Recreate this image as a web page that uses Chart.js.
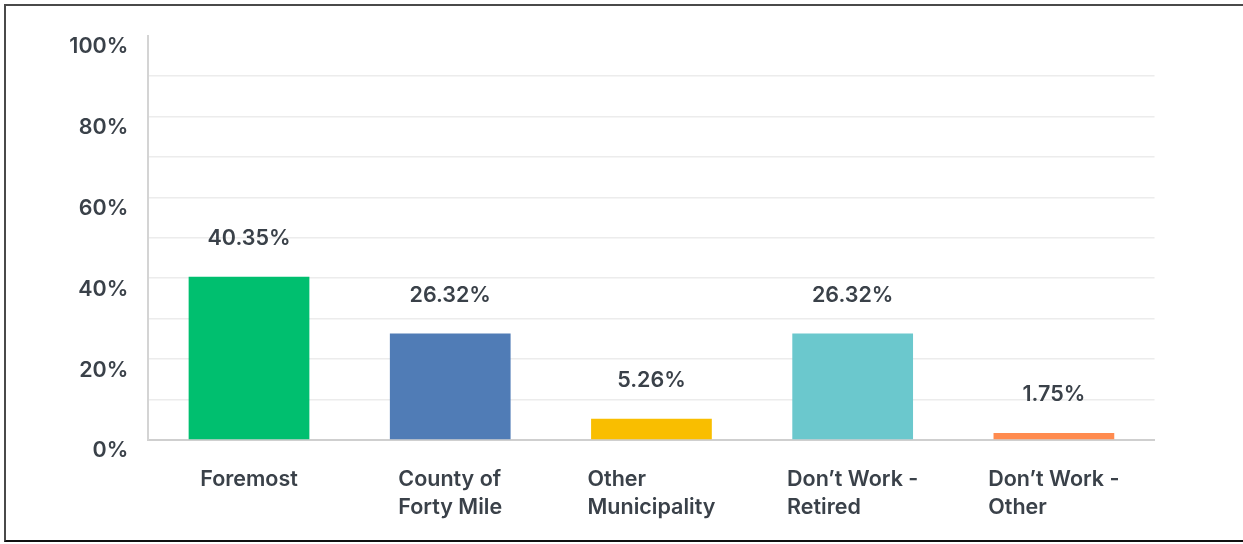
<!DOCTYPE html>
<html>
<head>
<meta charset="utf-8">
<script src="https://cdn.jsdelivr.net/npm/chart.js@4.4.0/dist/chart.umd.min.js"></script>
<style>
  html, body { margin: 0; padding: 0; background: #fff; }
  #wrap { position: relative; width: 1243px; height: 544px; }
  #frame { position: absolute; left: 4px; top: 4px; width: 1239px; height: 538px;
           border-top: 2px solid #4a4a4a; border-left: 2px solid #4a4a4a; border-bottom: 2px solid #111;
           box-sizing: border-box; pointer-events: none; }
</style>
</head>
<body>
<div id="wrap">
  <canvas id="chart1" width="1243" height="544"></canvas>
  <div id="frame"></div>
</div>
<script>
const categories = [
  ['Foremost'],
  ['County of', 'Forty Mile'],
  ['Other', 'Municipality'],
  ['Don\u2019t Work -', 'Retired'],
  ['Don\u2019t Work -', 'Other']
];
const percents = [40.35, 26.32, 5.26, 26.32, 1.75];
const barColors = ['#00bf6f', '#507cb6', '#f9be00', '#6bc8cd', '#ff8b4f'];
const yTicks = [0, 20, 40, 60, 80, 100];

const textColor = '#3a4149';
const fontFamily = 'Inter, "Open Sans", sans-serif';
const fontSize = 21.5;

// value labels above each bar
const valueLabels = {
  id: 'valueLabels',
  afterDatasetsDraw(chart) {
    const ctx = chart.ctx;
    const meta = chart.getDatasetMeta(0);
    ctx.save();
    ctx.font = '600 ' + fontSize + 'px ' + fontFamily;
    ctx.fillStyle = textColor;
    ctx.textAlign = 'center';
    ctx.textBaseline = 'middle';
    meta.data.forEach(function(bar, i) {
      ctx.fillText(percents[i].toFixed(2) + '%', bar.x, bar.y - 38.5);
    });
    ctx.restore();
  }
};

// x labels: lines left aligned, block centred under the bar
const xLabels = {
  id: 'xLabels',
  afterDraw(chart) {
    const ctx = chart.ctx;
    const x = chart.scales.x;
    ctx.save();
    ctx.font = '600 ' + fontSize + 'px ' + fontFamily;
    ctx.fillStyle = textColor;
    ctx.textAlign = 'left';
    ctx.textBaseline = 'middle';
    categories.forEach(function(lines, i) {
      const cx = x.getPixelForValue(i);
      let w = 0;
      lines.forEach(function(l) { w = Math.max(w, ctx.measureText(l).width); });
      lines.forEach(function(l, j) {
        ctx.fillText(l, cx - w / 2, 480 + j * 28);
      });
    });
    ctx.restore();
  }
};

new Chart(document.getElementById('chart1'), {
  type: 'bar',
  data: {
    labels: categories.map(function(c) { return c.join(' '); }),
    datasets: [{
      data: percents,
      backgroundColor: barColors,
      barPercentage: 0.6,
      categoryPercentage: 1.0
    }]
  },
  options: {
    responsive: false,
    animation: false,
    layout: { padding: { top: 35.6, right: 88.5, left: 0, bottom: 0 } },
    plugins: {
      legend: { display: false },
      tooltip: { enabled: false }
    },
    scales: {
      x: {
        grid: { display: false, drawTicks: false },
        border: { color: '#cfcfcf', width: 2 },
        ticks: { display: false },
        afterFit: function(scale) { scale.height = 104; }
      },
      y: {
        min: 0,
        max: 100,
        afterBuildTicks: function(scale) {
          scale.ticks = [0, 10, 20, 30, 40, 50, 60, 70, 80, 90, 100].map(function(v) { return { value: v }; });
        },
        afterFit: function(scale) { scale.width = 148.4; },
        grid: {
          drawTicks: false,
          lineWidth: 1.5,
          color: function(c) {
            return (c.tick.value === 100 || c.tick.value === 0) ? 'rgba(0,0,0,0)' : '#ececec';
          }
        },
        border: { color: '#d4d4d4', width: 2 },
        ticks: {
          padding: 20,
          labelOffset: 11,
          color: textColor,
          font: { family: fontFamily, size: fontSize, weight: '600' },
          callback: function(v) { return yTicks.indexOf(v) >= 0 ? v + '%' : ''; }
        }
      }
    }
  },
  plugins: [valueLabels, xLabels]
});
</script>
</body>
</html>
